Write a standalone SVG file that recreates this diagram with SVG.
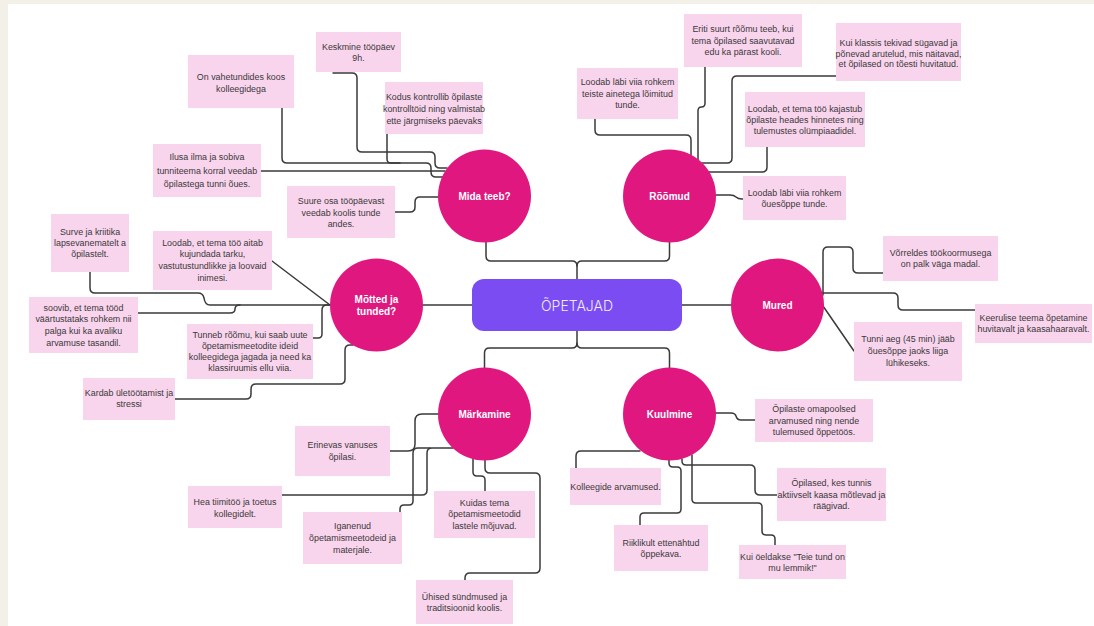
<svg xmlns="http://www.w3.org/2000/svg" width="1094" height="626" viewBox="0 0 1094 626">
<style>
.bg{fill:#f3f0e8}
.box{fill:#f9d4ed}
.t{font-family:"Liberation Sans",Arial,sans-serif;font-size:8.9px;fill:#3a3a3a;text-anchor:middle}
.c{fill:#e0177f}
.ct{font-family:"Liberation Sans",Arial,sans-serif;font-weight:bold;font-size:10px;fill:#fff;text-anchor:middle}
.ln{fill:none;stroke:#3a3a3a;stroke-width:1.5;stroke-linecap:round}
</style>
<rect width="1094" height="626" fill="#fff"/>
<rect class="bg" x="0" y="0" width="1094" height="4"/>
<rect class="bg" x="0" y="0" width="8" height="626"/>

<g id="connectors" class="ln">
<!-- center -->
<path d="M577 279V266Q577 261 572 261H491Q486 261 486 256V242"/>
<path d="M577 266Q577 261 582 261H664.5Q669.5 261 669.5 256V242"/>
<path d="M577 331V343Q577 348 572 348H489.5Q484.5 348 484.5 353V368"/>
<path d="M577 343Q577 348 582 348H664.5Q669.5 348 669.5 353V368"/>
<path d="M472 305H423"/>
<path d="M682 305H731"/>
<!-- Mida teeb -->
<path d="M282 108V158Q282 163 287 163H426Q431 163 431 168V172Q431 177 436 177H443"/>
<path d="M387 134V159Q387 163 391 163H400"/>
<path d="M333 73H352Q357 73 357 78V147Q357 152 362 152H430Q435 152 435 157V163Q435 168 440 168H447"/>
<path d="M261 171H445"/>
<path d="M395 212H410Q415 212 415 207V202Q415 197 420 197H438"/>
<!-- Rõõmud -->
<path d="M595 119V130Q595 135 600 135H686Q691 135 691 140V155"/>
<path d="M705 67V103Q705 107 701.5 107Q698 107 698 111V160"/>
<path d="M836 76H737Q732 76 732 81V158Q732 163 727 163H702"/>
<path d="M767 147V167Q767 172 762 172H709"/>
<path d="M716 195H730Q734 195 736 197Q738 199 742 199H743"/>
<!-- Mõtted ja tunded -->
<path d="M90 272V288Q90 293 95 293H198Q203 293 204 298Q205 305 210 305H330"/>
<path d="M138 313H230Q235 313 235 309Q235 305 240 305"/>
<path d="M272 261L330 305"/>
<path d="M313 338H318Q322 338 322 334V310Q322 305 327 305H330"/>
<path d="M175 399H246Q251 399 251 394V389Q251 384 256 384H340Q345 384 345 379V350Q345 345 350 345H353"/>
<!-- Mured -->
<path d="M823 295V252Q823 247 828 247H848Q853 247 853 252V268Q853 273 858 273H883"/>
<path d="M822 293H893Q898 293 898 298V305Q898 310 903 310H975"/>
<path d="M823 306L854 351"/>
<!-- Märkamine -->
<path d="M390 451H408Q415 451 415 444V421Q415 414 422 414H438"/>
<path d="M282 495H422Q427 495 427 490V453Q427 448 432 448H453"/>
<path d="M400 512V509Q400 505 404 505H409Q413 505 413 501V453Q413 448 418 448H430"/>
<path d="M473 459V472Q473 476 477 476H481Q485 476 485 480V491"/>
<path d="M485 460V468Q485 473 490 473H535Q540 473 540 478V568Q540 573 535 573H470Q465 573 465 578V580"/>
<!-- Kuulmine -->
<path d="M715 413H731Q735 413 736 416Q737 420 741 420H755"/>
<path d="M576 468V456Q576 451 581 451H640"/>
<path d="M682 459V461Q682 465 686 465H750Q755 465 755 470V490Q755 495 760 495H777"/>
<path d="M669 460V463Q669 467 673 467H677Q681 467 681 471V509Q681 513 677 513H644Q640 513 640 517V525"/>
<path d="M692 455V499Q692 503 696 503H758Q762 503 762 507V531Q762 535 766 535H771Q775 535 775 539V545"/>
</g>

<g id="center">
<rect x="472" y="279" width="210" height="52" rx="12" fill="#7b4cf2"/>
<text x="577" y="311" text-anchor="middle" font-family="Inter, 'Liberation Sans', sans-serif" font-weight="300" font-size="14" fill="#f1ebff">ÕPETAJAD</text>
</g>

<g id="mida-teeb"><circle class="c" cx="484.5" cy="196" r="46.5"/><text class="ct" x="484.5" y="199.5">Mida teeb?</text></g>
<g id="roomud"><circle class="c" cx="669.5" cy="196" r="46.5"/><text class="ct" x="669.5" y="199.5">Rõõmud</text></g>
<g id="motted"><circle class="c" cx="376.5" cy="305" r="46.5"/><text class="ct" x="376.5" y="302.5">Mõtted ja</text><text class="ct" x="376.5" y="314.5">tunded?</text></g>
<g id="mured"><circle class="c" cx="777.5" cy="305" r="46.5"/><text class="ct" x="777.5" y="308.5">Mured</text></g>
<g id="markamine"><circle class="c" cx="484.5" cy="414" r="46.5"/><text class="ct" x="484.5" y="417.5">Märkamine</text></g>
<g id="kuulmine"><circle class="c" cx="669.5" cy="414" r="46.5"/><text class="ct" x="669.5" y="417.5">Kuulmine</text></g>

<g id="n-vahetundides"><rect class="box" x="188" y="55" width="106" height="53"/><text class="t" x="241" y="80">On vahetundides koos</text><text class="t" x="241" y="91.5">kolleegidega</text></g>
<g id="n-keskmine"><rect class="box" x="316" y="32" width="85" height="40"/><text class="t" x="358.5" y="50">Keskmine tööpäev</text><text class="t" x="358.5" y="61">9h.</text></g>
<g id="n-kodus"><rect class="box" x="385" y="82" width="98" height="52"/><text class="t" x="434" y="100">Kodus kontrollib õpilaste</text><text class="t" x="434" y="112">kontrolltöid ning valmistab</text><text class="t" x="434" y="124">ette järgmiseks päevaks</text></g>
<g id="n-ilusa"><rect class="box" x="153" y="144" width="108" height="53"/><text class="t" x="207" y="160">Ilusa ilma ja sobiva</text><text class="t" x="207" y="173.5">tunniteema korral veedab</text><text class="t" x="207" y="186.5">õpilastega tunni õues.</text></g>
<g id="n-suure"><rect class="box" x="287" y="186" width="108" height="52"/><text class="t" x="341" y="204">Suure osa tööpäevast</text><text class="t" x="341" y="216">veedab koolis tunde</text><text class="t" x="341" y="227">andes.</text></g>

<g id="n-eriti"><rect class="box" x="684" y="14" width="118" height="53"/><text class="t" x="743" y="32">Eriti suurt rõõmu teeb, kui</text><text class="t" x="743" y="44">tema õpilased saavutavad</text><text class="t" x="743" y="55">edu ka pärast kooli.</text></g>
<g id="n-klassis"><rect class="box" x="836" y="23" width="125" height="58"/><text class="t" x="898.5" y="46">Kui klassis tekivad sügavad ja</text><text class="t" x="898.5" y="56.5">põnevad arutelud, mis näitavad,</text><text class="t" x="898.5" y="67">et õpilased on tõesti huvitatud.</text></g>
<g id="n-loimitud"><rect class="box" x="577" y="68" width="101" height="51"/><text class="t" x="627.5" y="85">Loodab läbi viia rohkem</text><text class="t" x="627.5" y="96.5">teiste ainetega lõimitud</text><text class="t" x="627.5" y="108">tunde.</text></g>
<g id="n-kajastub"><rect class="box" x="745" y="92" width="120" height="55"/><text class="t" x="805" y="112">Loodab, et tema töö kajastub</text><text class="t" x="805" y="123">õpilaste heades hinnetes ning</text><text class="t" x="805" y="134">tulemustes olümpiaadidel.</text></g>
<g id="n-ouesoppe"><rect class="box" x="743" y="176" width="103" height="44"/><text class="t" x="794.5" y="196">Loodab läbi viia rohkem</text><text class="t" x="794.5" y="207">õuesõppe tunde.</text></g>

<g id="n-surve"><rect class="box" x="51" y="214" width="78" height="58"/><text class="t" x="90" y="235">Surve ja kriitika</text><text class="t" x="90" y="246">lapsevanematelt a</text><text class="t" x="90" y="257">õpilastelt.</text></g>
<g id="n-aitab"><rect class="box" x="153" y="231" width="119" height="59"/><text class="t" x="212.5" y="246">Loodab, et tema töö aitab</text><text class="t" x="212.5" y="257">kujundada tarku,</text><text class="t" x="212.5" y="269">vastutustundlikke ja loovaid</text><text class="t" x="212.5" y="281">inimesi.</text></g>
<g id="n-soovib"><rect class="box" x="29" y="297" width="109" height="56"/><text class="t" x="83.5" y="311">soovib, et tema tööd</text><text class="t" x="83.5" y="322">väärtustataks rohkem nii</text><text class="t" x="83.5" y="334">palga kui ka avaliku</text><text class="t" x="83.5" y="346">arvamuse tasandil.</text></g>
<g id="n-tunneb"><rect class="box" x="187" y="324" width="126" height="55"/><text class="t" x="250" y="338">Tunneb rõõmu, kui saab uute</text><text class="t" x="250" y="349">õpetamismeetodite ideid</text><text class="t" x="250" y="360">kolleegidega jagada ja need ka</text><text class="t" x="250" y="371">klassiruumis ellu viia.</text></g>
<g id="n-kardab"><rect class="box" x="83" y="378" width="92" height="42"/><text class="t" x="129" y="396">Kardab ületöötamist ja</text><text class="t" x="129" y="407">stressi</text></g>

<g id="n-vorreldes"><rect class="box" x="883" y="236" width="115" height="45"/><text class="t" x="940.5" y="256">Võrreldes töökoormusega</text><text class="t" x="940.5" y="267">on palk väga madal.</text></g>
<g id="n-keerulise"><rect class="box" x="975" y="304" width="117" height="39"/><text class="t" x="1033.5" y="321">Keerulise teema õpetamine</text><text class="t" x="1033.5" y="332">huvitavalt ja kaasahaaravalt.</text></g>
<g id="n-tunni"><rect class="box" x="854" y="322" width="108" height="59"/><text class="t" x="908" y="342">Tunni aeg (45 min) jääb</text><text class="t" x="908" y="354">õuesõppe jaoks liiga</text><text class="t" x="908" y="366">lühikeseks.</text></g>

<g id="n-erinevas"><rect class="box" x="295" y="426" width="95" height="50"/><text class="t" x="342.5" y="448">Erinevas vanuses</text><text class="t" x="342.5" y="460">õpilasi.</text></g>
<g id="n-hea"><rect class="box" x="188" y="486" width="94" height="42"/><text class="t" x="235" y="505">Hea tiimitöö ja toetus</text><text class="t" x="235" y="517">kollegidelt.</text></g>
<g id="n-iganenud"><rect class="box" x="303" y="512" width="99" height="52"/><text class="t" x="352.5" y="529">Iganenud</text><text class="t" x="352.5" y="541">õpetamismeetodeid ja</text><text class="t" x="352.5" y="553">materjale.</text></g>
<g id="n-kuidas"><rect class="box" x="434" y="491" width="101" height="47"/><text class="t" x="484.5" y="506">Kuidas tema</text><text class="t" x="484.5" y="517">õpetamismeetodid</text><text class="t" x="484.5" y="529">lastele mõjuvad.</text></g>
<g id="n-uhised"><rect class="box" x="416" y="580" width="97" height="44"/><text class="t" x="464.5" y="600">Ühised sündmused ja</text><text class="t" x="464.5" y="611">traditsioonid koolis.</text></g>

<g id="n-omapoolsed"><rect class="box" x="755" y="399" width="118" height="43"/><text class="t" x="814" y="412">Õpilaste omapoolsed</text><text class="t" x="814" y="424">arvamused ning nende</text><text class="t" x="814" y="435">tulemused õppetöös.</text></g>
<g id="n-kolleegide"><rect class="box" x="570" y="468" width="91" height="37"/><text class="t" x="615.5" y="490">Kolleegide arvamused.</text></g>
<g id="n-aktiivselt"><rect class="box" x="777" y="468" width="109" height="53"/><text class="t" x="831.5" y="486">Õpilased, kes tunnis</text><text class="t" x="831.5" y="498">aktiivselt kaasa mõtlevad ja</text><text class="t" x="831.5" y="509">räägivad.</text></g>
<g id="n-riiklikult"><rect class="box" x="614" y="525" width="94" height="46"/><text class="t" x="661" y="546">Riiklikult ettenähtud</text><text class="t" x="661" y="557">õppekava.</text></g>
<g id="n-lemmik"><rect class="box" x="739" y="545" width="107" height="34"/><text class="t" x="792.5" y="560">Kui öeldakse "Teie tund on</text><text class="t" x="792.5" y="570.5">mu lemmik!"</text></g>
</svg>
